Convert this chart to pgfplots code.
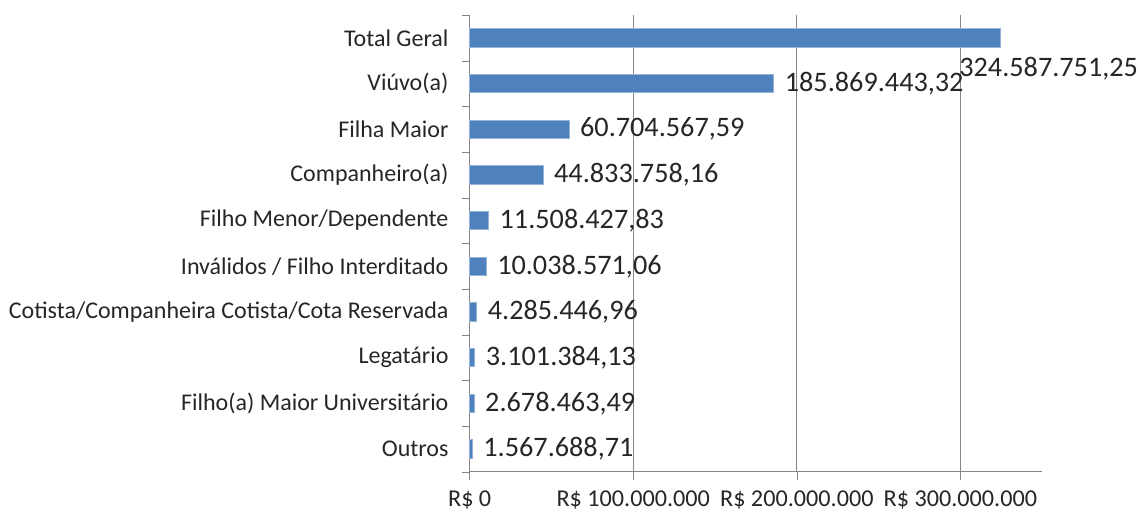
\documentclass[border=0pt]{standalone}
\usepackage{pgfplots}
\pgfplotsset{compat=1.18}
\usepackage{pgfplotstable}
\usepackage{fontspec}
\setmainfont{Carlito}
\definecolor{barblue}{HTML}{4F81BD}
\definecolor{gridgray}{HTML}{868686}
\definecolor{txt}{HTML}{262626}

% values in R$, bottom (Outros) to top
\pgfplotstableread{
y x lab
0 1567688.71 1.567.688,71
1 2678463.49 2.678.463,49
2 3101384.13 3.101.384,13
3 4285446.96 4.285.446,96
4 10038571.06 10.038.571,06
5 11508427.83 11.508.427,83
6 44833758.16 44.833.758,16
7 60704567.59 60.704.567,59
8 185869443.32 185.869.443,32
}\parts
\pgfplotstableread{
y x lab
9 324587751.25 324.587.751,25
}\total

\begin{document}
\begin{tikzpicture}
\useasboundingbox (-233pt,-22pt) rectangle (334.5pt,234pt);
\begin{axis}[
  at={(0,0)}, anchor=south west,
  width=284pt, height=226.5pt, scale only axis,
  xbar, bar width=9pt, bar shift=0pt,
  xmin=0, xmax=350000000, ymin=-0.5, ymax=9.5,
  axis x line*=bottom, axis y line*=left,
  axis line style={gridgray, -},
  scaled x ticks=false,
  xtick={0,100000000,200000000,300000000},
  xticklabels={R\$ 0, R\$ 100.000.000, R\$ 200.000.000, R\$ 300.000.000},
  xticklabel style={yshift=-2pt},
  ytick={0,...,9},
  yticklabels={Outros, Filho(a) Maior Universitário, Legatário,
    Cotista/Companheira Cotista/Cota Reservada, Inválidos / Filho Interditado,
    Filho Menor/Dependente, Companheiro(a), Filha Maior, Viúvo(a), Total Geral},
  yticklabel style={xshift=-3pt, font=\fontsize{11.9}{14}\selectfont},
  ytick style={draw=none},
  extra y ticks={-0.5,0.5,...,9.5},
  extra y tick labels={},
  extra y tick style={ytick style={draw=gridgray}},
  xtick style={draw=gridgray},
  tick align=outside, major tick length=4pt,
  xmajorgrids, grid style={gridgray, line width=0.6pt},
  tick label style={font=\fontsize{12}{14}\selectfont, text=txt},
  /pgf/number format/assume math mode=true,
  nodes near coords, point meta=explicit symbolic,
  nodes near coords style={font=\fontsize{14}{16}\selectfont, text=txt, anchor=west, xshift=2pt},
  clip=false,
]
\addplot[fill=barblue, draw=barblue!60!white] table[x=x, y=y, meta=lab] {\parts};
\addplot[fill=barblue, draw=barblue!60!white,
  nodes near coords style={anchor=west, xshift=-26pt, yshift=-15pt}]
  table[x=x, y=y, meta=lab] {\total};
\end{axis}
\end{tikzpicture}
\end{document}
